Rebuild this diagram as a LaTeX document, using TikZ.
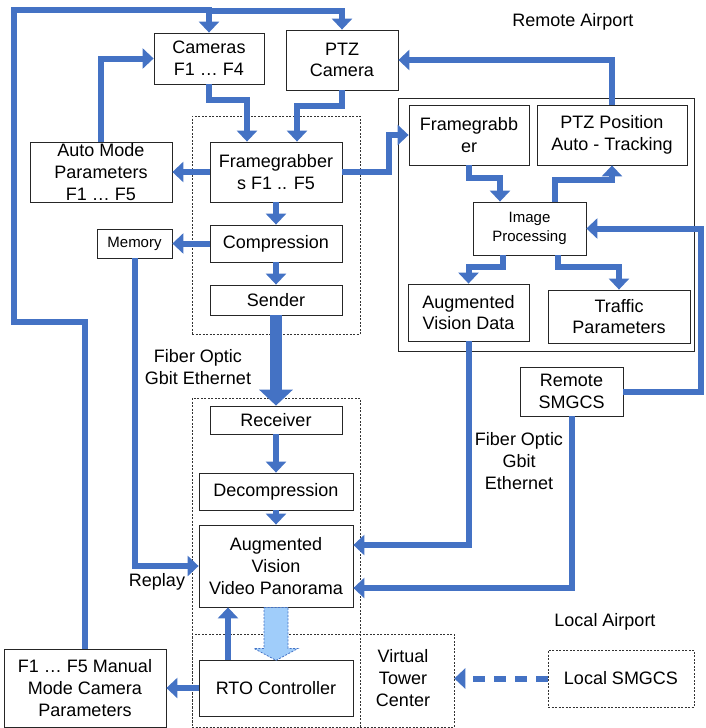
\documentclass[tikz,border=0pt]{standalone}
\usepackage{fontspec}
\setmainfont{Liberation Sans}
\usetikzlibrary{arrows.meta}
\definecolor{linkblue}{RGB}{68,114,196}
\definecolor{paleblue}{RGB}{160,205,250}
\begin{document}
\begin{tikzpicture}[x=1pt,y=-1pt,
    box/.style={draw=black!85,line width=0.8pt,fill=white,align=center,inner sep=0pt,
      font=\fontsize{18}{21.7}\selectfont},
    smallbox/.style={box,font=\fontsize{15}{19}\selectfont},
    region/.style={draw=black!80,line width=0.6pt,dash pattern=on 2pt off 1.5pt},
    label/.style={align=center,font=\fontsize{18}{21.7}\selectfont},
    link/.style={draw=linkblue,line width=6pt,-{Triangle[width=20pt,length=11pt]}},
    fiber/.style={draw=linkblue,line width=12pt,-{Triangle[width=33pt,length=16pt]}}]
  \useasboundingbox (0,0) rectangle (705,728);
  % containers
  \node[region,minimum width=168,minimum height=218] (sendside) at (276,225) {};
  \node[region,minimum width=168,minimum height=329] (recvside) at (276,562.5) {};
  \node[region,minimum width=262,minimum height=93] (vtcbox) at (323,680.5) {};
  \node[draw=black!85,line width=0.8pt,minimum width=296,minimum height=253] (remotebox) at (546,224.5) {};
  % boxes
  \node[box,minimum width=110,minimum height=51] (cams) at (209,58.5) {Cameras\\F1 … F4};
  \node[box,minimum width=112,minimum height=60] (ptz) at (342,60) {PTZ\\Camera};
  \node[box,minimum width=142,minimum height=60] (auto) at (101,172) {Auto Mode\\Parameters\\F1 … F5};
  \node[box,minimum width=132,minimum height=60] (fgs) at (276,172) {Framegrabber\\s F1 .. F5};
  \node[smallbox,minimum width=75,minimum height=29] (mem) at (134.5,243.5) {Memory};
  \node[box,minimum width=132,minimum height=37] (comp) at (276,243.5) {Compression};
  \node[box,minimum width=132,minimum height=30] (send) at (276,300) {Sender};
  \node[box,minimum width=132,minimum height=28] (recv) at (276,420) {Receiver};
  \node[box,minimum width=154,minimum height=37] (decomp) at (276,491.5) {Decompression};
  \node[box,minimum width=154,minimum height=82] (avp) at (276,566) {Augmented\\Vision\\Video Panorama};
  \node[box,minimum width=154,minimum height=56] (rto) at (276,688) {RTO Controller};
  \node[box,minimum width=162,minimum height=78] (manual) at (85,688) {F1 … F5 Manual\\Mode Camera\\Parameters};
  \node[box,minimum width=120,minimum height=60] (fg) at (469,135) {Framegrabb\\er};
  \node[box,minimum width=150,minimum height=60] (ptzpos) at (612,135) {PTZ Position\\Auto - Tracking};
  \node[smallbox,minimum width=113,minimum height=53] (imgp) at (529.5,228.5) {Image\\Processing};
  \node[box,minimum width=121,minimum height=57] (avd) at (468.5,312.5) {Augmented\\Vision Data};
  \node[box,minimum width=142,minimum height=53] (traffic) at (619,316.5) {Traffic\\Parameters};
  \node[box,minimum width=103,minimum height=49] (rsmgcs) at (571.5,391.5) {Remote\\SMGCS};
  \node[box,region,minimum width=146,minimum height=57] (lsmgcs) at (621,678.5) {Local SMGCS};
  \node[label] (vtc) at (403,678) {Virtual\\Tower\\Center};
  % labels
  \node[label] (remote) at (573,22) {Remote Airport};
  \node[label] (local) at (605,622) {Local Airport};
  \node[label] (fiberl) at (198,367) {Fiber Optic\\Gbit Ethernet};
  \node[label] (fiberr) at (519,461) {Fiber Optic\\Gbit\\Ethernet};
  \node[label] (replay) at (157,582) {Replay};
  % connectors
  \draw[link] (manual.north) |- (14,322) -- (14,10) -| (cams.north);
  \draw[link] (cams.north |- 0,11) -| (ptz.north);
  \draw[link] (cams.south) -- ++(0,16) -| ([xshift=-29pt]fgs.north);
  \draw[link] (ptz.south) -- ++(0,16) -| ([xshift=21pt]fgs.north);
  \draw[link] (auto.north) |- (cams.west);
  \draw[link] (fgs.west) -- (auto.east);
  \draw[link] (fgs.south) -- (comp.north);
  \draw[link] (fgs.east) -- ++(47,0) |- (fg.west);
  \draw[link] (comp.west) -- (mem.east);
  \draw[link] (comp.south) -- (send.north);
  \draw[fiber] (send.south) -- (recv.north);
  \draw[link] (recv.south) -- (decomp.north);
  \draw[link] (decomp.south) -- (avp.north);
  \draw[link] (mem.south) |- (avp.west);
  \draw[link] ([xshift=-48pt]rto.north) -- ([xshift=-48pt]avp.south);
  \draw[link] (rto.west) -- (manual.east);
  \draw[fill=paleblue,draw=linkblue,line width=0.8pt,dash pattern=on 2pt off 1.5pt,shift={(avp.south)}]
    (-12,0) -- (12,0) -- (12,41) -- (22,41) -- (0,53) -- (-22,41) -- (-12,41) -- cycle;
  \draw[link] (fg.south) -- ++(0,13) -| ([xshift=-29.5pt]imgp.north);
  \draw[link] ([xshift=25.5pt]imgp.north) -- ++(0,-22) -| (ptzpos.south);
  \draw[link] (ptzpos.north) |- (ptz.east);
  \draw[link] ([xshift=-26.5pt]imgp.south) -- ++(0,12) -| (avd.north);
  \draw[link] ([xshift=28.5pt]imgp.south) -- ++(0,12) -| (traffic.north);
  \draw[link] (rsmgcs.east) -- ++(78,0) |- (imgp.east);
  \draw[link] (avd.south) |- ([yshift=21pt]avp.east);
  \draw[link] (rsmgcs.south) |- ([yshift=-22pt]avp.east);
  \draw[link,dash pattern=on 12pt off 9pt] (lsmgcs.west) -- (lsmgcs.west -| vtcbox.east);
\end{tikzpicture}
\end{document}
